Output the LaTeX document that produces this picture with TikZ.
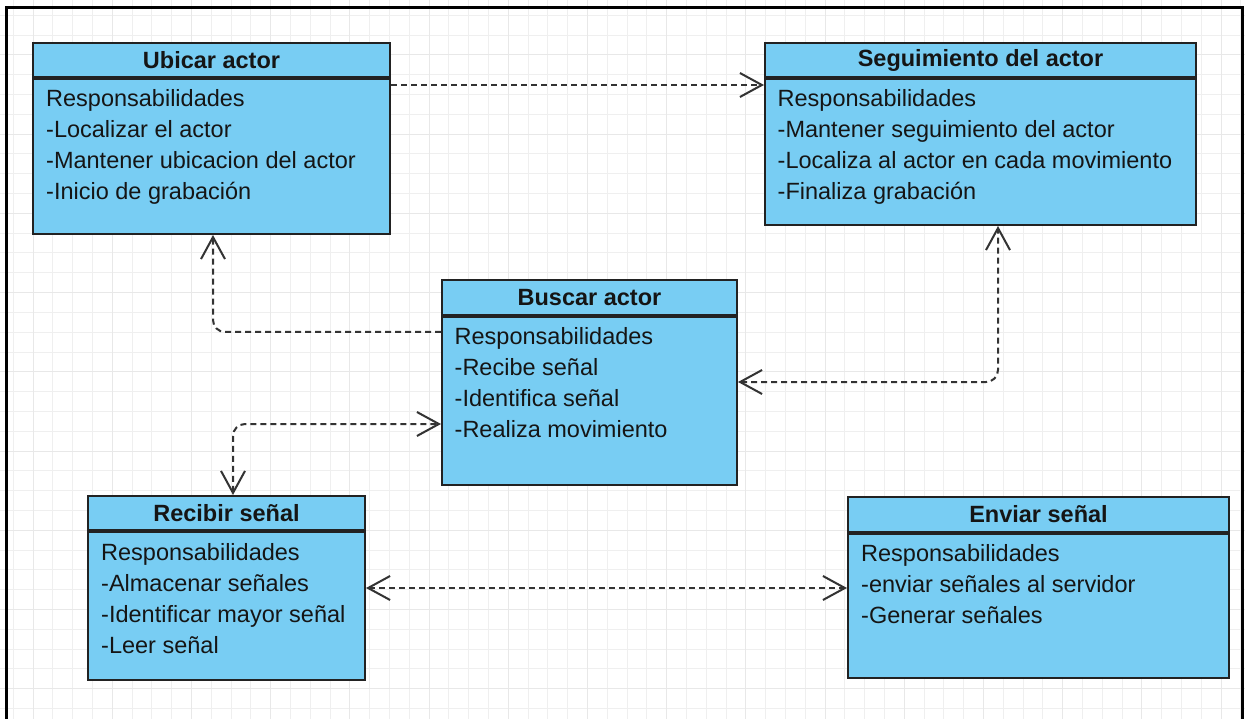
\documentclass[tikz,border=0pt]{standalone}
\usepackage{fontspec}
\setmainfont{Liberation Sans}
\usetikzlibrary{arrows.meta}
\definecolor{classfill}{RGB}{120,205,243}
\definecolor{edge}{HTML}{222222}
\definecolor{wire}{HTML}{333333}
\definecolor{gridminor}{HTML}{EFEFEF}
\definecolor{gridmajor}{HTML}{E8E8E8}
\definecolor{ink}{HTML}{151515}
\begin{document}
\begin{tikzpicture}[x=1pt,y=-1pt,
  hdr/.style={draw=edge, line width=2pt, fill=classfill, anchor=north west,
    inner sep=0pt, font=\fontsize{23.5}{28}\selectfont\bfseries, text=ink},
  bodybox/.style={draw=edge, line width=2pt, fill=classfill, anchor=north west,
    inner sep=0pt},
  txt/.style={anchor=north west, inner sep=0pt, align=left,
    font=\fontsize{23.5}{31}\selectfont, text=ink},
  conn/.style={draw=wire, line width=2pt, dash pattern=on 6pt off 4pt,
    rounded corners=12pt},
  >={Straight Barb[length=22pt,width=24pt]}]

\useasboundingbox (0,0) rectangle (1245,719);
\fill[white] (0,0) rectangle (1245,719);

% background grid
\foreach \k in {0,...,63} {
  \draw[gridminor, line width=1pt] ({-6.6+19.8*\k},0) -- ({-6.6+19.8*\k},719);
}
\foreach \k in {0,...,37} {
  \draw[gridminor, line width=1pt] (0,{-4.4+19.8*\k}) -- (1245,{-4.4+19.8*\k});
}
\foreach \k in {0,...,15} {
  \draw[gridmajor, line width=1pt] ({33+79.2*\k},0) -- ({33+79.2*\k},719);
}
\foreach \k in {0,...,8} {
  \draw[gridmajor, line width=1pt] (0,{55+79.2*\k}) -- (1245,{55+79.2*\k});
}

% outer frame
\draw[black, line width=3pt] (6.5,719) -- (6.5,7.5) -- (1242.5,7.5) -- (1242.5,719);

% Ubicar actor
\node[hdr, minimum width=357pt, minimum height=34pt] (ubicar) at (32,42) {Ubicar actor};
\node[bodybox, minimum width=357pt, minimum height=155pt] (ubicarB) at (ubicar.south west) {};
\node[txt] (ubicarT) at ([xshift=14pt]ubicarB.north west)
  {\rule{0pt}{28pt}Responsabilidades\\-Localizar el actor\\-Mantener ubicacion del actor\\-Inicio de grabación};

% Seguimiento del actor
\node[hdr, minimum width=431pt, minimum height=34pt] (segui) at (764,42) {Seguimiento del actor};
\node[bodybox, minimum width=431pt, minimum height=146pt] (seguiB) at (segui.south west) {};
\node[txt] (seguiT) at ([xshift=13.5pt]seguiB.north west)
  {\rule{0pt}{28pt}Responsabilidades\\-Mantener seguimiento del actor\\-Localiza al actor en cada movimiento\\-Finaliza grabación};

% Buscar actor
\node[hdr, minimum width=295pt, minimum height=35pt] (buscar) at (441,279) {Buscar actor};
\node[bodybox, minimum width=295pt, minimum height=168pt] (buscarB) at (buscar.south west) {};
\node[txt] (buscarT) at ([xshift=13.5pt]buscarB.north west)
  {\rule{0pt}{28pt}Responsabilidades\\-Recibe señal\\-Identifica señal\\-Realiza movimiento};

% Recibir señal
\node[hdr, minimum width=277pt, minimum height=34pt] (recibir) at (87,495) {Recibir señal};
\node[bodybox, minimum width=277pt, minimum height=148pt] (recibirB) at (recibir.south west) {};
\node[txt] (recibirT) at ([xshift=14pt]recibirB.north west)
  {\rule{0pt}{29pt}Responsabilidades\\-Almacenar señales\\-Identificar mayor señal\\-Leer señal};

% Enviar señal
\node[hdr, minimum width=381pt, minimum height=35pt] (enviar) at (847,496) {Enviar señal};
\node[bodybox, minimum width=381pt, minimum height=144pt] (enviarB) at (enviar.south west) {};
\node[txt] (enviarT) at ([xshift=14pt]enviarB.north west)
  {\rule{0pt}{28pt}Responsabilidades\\-enviar señales al servidor\\-Generar señales};

% dependencies
\draw[conn, ->] ([yshift=-7pt]ubicarB.north east) -- ([yshift=-7pt]seguiB.north west);
\draw[conn, ->] ([yshift=-16pt]buscarB.north west) -| ([xshift=1.5pt]ubicarB.south);
\draw[conn, <->] ([yshift=-66pt]buscarB.north east) -| ([xshift=17.5pt]seguiB.south);
\draw[conn, <->] ([xshift=6.5pt]recibir.north) |- ([yshift=-108pt]buscarB.north west);
\draw[conn, <->] ([yshift=-57pt]recibirB.north east) -- ([yshift=-55pt]enviarB.north west);
\end{tikzpicture}
\end{document}
